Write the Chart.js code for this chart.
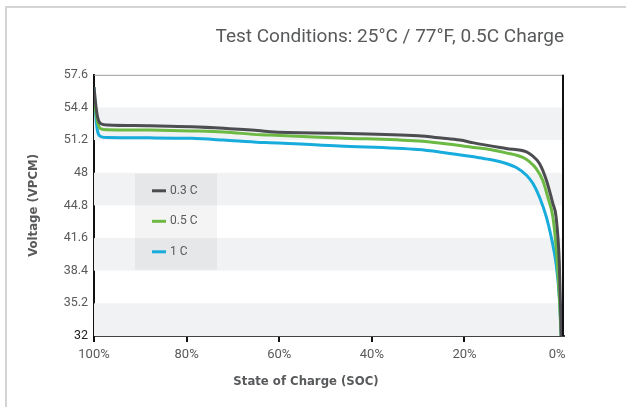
<!DOCTYPE html>
<html lang="en">
<head>
<meta charset="UTF-8">
<title>Discharge Curves</title>
<script src="https://cdn.jsdelivr.net/npm/chart.js"></script>
<style>
  body { margin: 0; background: #fff; }
  #wrap { position: relative; width: 626px; height: 407px; overflow: hidden; }
  #card { position: absolute; left: 5px; top: 6px; width: 640px; height: 420px; border-top: 2px solid #d4d4d4; border-left: 2px solid #d4d4d4; }
  canvas { position: absolute; left: 0; top: 0; }
</style>
</head>
<body>
<div id="wrap">
  <div id="card"></div>
  <canvas id="chart" width="626" height="407"></canvas>
</div>
<script>
// state of charge (%) and voltage, one pair per rate
var soc03  = [100, 99.6, 99.2, 98.5, 97, 88, 79, 72, 64, 62, 47, 30, 25, 21, 18, 11, 6.6, 5.5, 3.8, 2.3, 0.9, 0.2, -0.5, -0.9];
var volt03 = [56.4, 54.6, 53.4, 52.8, 52.68, 52.6, 52.5, 52.35, 52.12, 52.02, 51.87, 51.62, 51.4, 51.2, 50.93, 50.38, 50.05, 49.72, 48.9, 47.26, 44.97, 43.65, 39.06, 32.0];

var soc05  = [100, 99.6, 99.2, 98.5, 97, 88, 79, 72, 64, 62, 47, 30, 25, 18, 14.5, 11, 7.4, 5.9, 4.5, 3.1, 2.0, 0.9, 0.2, -0.5, -0.9];
var volt05 = [55.8, 54.0, 52.9, 52.3, 52.22, 52.18, 52.1, 52.0, 51.72, 51.69, 51.41, 51.1, 50.88, 50.48, 50.28, 49.95, 49.5, 49.06, 48.41, 47.26, 45.62, 43.65, 40.7, 35.77, 32.0];

var soc1   = [100, 99.6, 99.2, 98.5, 97, 88, 79, 72, 64, 62, 47, 30, 25, 18, 14.5, 11, 8.8, 6.6, 5.2, 3.8, 2.3, 1.25, 0.2, -0.5, -0.9];
var volt1  = [56.4, 53.5, 52.0, 51.55, 51.45, 51.42, 51.37, 51.2, 50.97, 50.95, 50.63, 50.28, 50.02, 49.56, 49.3, 48.91, 48.51, 47.75, 46.94, 45.62, 43.65, 41.68, 39.06, 35.77, 32.0];

var seriesNames = ['0.3 C', '0.5 C', '1 C'];
var xTicks = [100, 80, 60, 40, 20, 0];
var yTicks = [32, 35.2, 38.4, 41.6, 44.8, 48, 51.2, 54.4, 57.6];
var yTickLabels = ['32', '35.2', '38.4', '41.6', '44.8', '48', '51.2', '54.4', '57.6'];
var bands = [[32, 35.2], [38.4, 41.6], [44.8, 48], [51.2, 54.4]];

function pairs(xs, ys) {
    return xs.map(function (x, i) { return { x: x, y: ys[i] }; });
}

var grey = '#58595b';
var narrow = '"Liberation Sans Narrow", "DejaVu Sans Condensed", Roboto';

// grey stripes behind the curves
var bandPlugin = {
    id: 'bands',
    beforeDatasetsDraw: function (chart) {
        var ctx = chart.ctx, a = chart.chartArea, y = chart.scales.y;
        ctx.save();
        ctx.fillStyle = '#f1f2f4';
        bands.forEach(function (b) {
            var top = y.getPixelForValue(b[1]);
            var bot = y.getPixelForValue(b[0]);
            ctx.fillRect(a.left, top, a.right - a.left, bot - top);
        });
        ctx.restore();
    }
};

// top and right edges of the plot box, legend, x axis title
var extrasPlugin = {
    id: 'extras',
    afterDraw: function (chart) {
        var ctx = chart.ctx, a = chart.chartArea;
        ctx.save();
        ctx.strokeStyle = '#9a9a9a';
        ctx.lineWidth = 1;
        ctx.beginPath();
        ctx.moveTo(a.left, a.top + 0.5);
        ctx.lineTo(a.right, a.top + 0.5);
        ctx.stroke();
        ctx.strokeStyle = '#111';
        ctx.lineWidth = 2;
        ctx.beginPath();
        ctx.moveTo(a.right - 1, a.top);
        ctx.lineTo(a.right - 1, a.bottom);
        ctx.stroke();

        // legend box
        var lx = a.left + 41, ly = a.top + 99;
        ctx.fillStyle = 'rgba(0,0,0,0.045)';
        ctx.fillRect(lx, ly, 82, 96);
        ctx.font = '12px Roboto';
        ctx.textBaseline = 'middle';
        chart.data.datasets.forEach(function (ds, i) {
            var cy = ly + 17 + i * 30.5;
            ctx.strokeStyle = ds.borderColor;
            ctx.lineWidth = 3;
            ctx.beginPath();
            ctx.moveTo(lx + 17, cy);
            ctx.lineTo(lx + 31, cy);
            ctx.stroke();
            ctx.fillStyle = grey;
            ctx.fillText(ds.label, lx + 35, cy);
        });

        ctx.font = 'bold 13px ' + narrow;
        ctx.fillStyle = grey;
        ctx.textAlign = 'center';
        ctx.fillText('State of Charge (SOC)', a.left + 212, a.bottom + 46);
        ctx.restore();
    }
};

new Chart(document.getElementById('chart'), {
    type: 'line',
    data: {
        datasets: [
            { label: seriesNames[0], data: pairs(soc03, volt03), borderColor: '#4b4d50' },
            { label: seriesNames[1], data: pairs(soc05, volt05), borderColor: '#6cb944' },
            { label: seriesNames[2], data: pairs(soc1, volt1), borderColor: '#17acdc' }
        ]
    },
    options: {
        responsive: false,
        animation: false,
        layout: { padding: { left: 0, right: 62, top: 0, bottom: 0 } },
        elements: {
            line: { borderWidth: 3, cubicInterpolationMode: 'monotone', fill: false },
            point: { radius: 0 }
        },
        plugins: {
            legend: { display: false },
            tooltip: { enabled: false },
            title: {
                display: true,
                text: 'Test Conditions: 25°C / 77°F, 0.5C Charge',
                align: 'end',
                color: grey,
                font: { family: 'Roboto', size: 19, weight: 'normal' },
                padding: { top: 26, bottom: 26 }
            }
        },
        scales: {
            x: {
                type: 'linear',
                reverse: true,
                min: -1.5,
                max: 100,
                afterBuildTicks: function (scale) {
                    scale.ticks = xTicks.map(function (v) { return { value: v }; });
                },
                afterFit: function (scale) { scale.height = 71; },
                ticks: {
                    color: grey,
                    font: { family: 'Roboto', size: 13 },
                    padding: 5,
                    maxRotation: 0,
                    callback: function (v) { return v + '%'; }
                },
                grid: {
                    drawOnChartArea: false,
                    tickLength: 6,
                    lineWidth: 2,
                    color: function (c) { return c.tick && c.tick.value === 0 ? 'rgba(0,0,0,0)' : '#111'; }
                },
                border: { display: true, color: '#444', width: 2 }
            },
            y: {
                min: 32,
                max: 57.6,
                afterBuildTicks: function (scale) {
                    scale.ticks = yTicks.map(function (v) { return { value: v }; });
                },
                afterFit: function (scale) { scale.width = 94; },
                ticks: {
                    color: function (c) { return c.index === 0 ? '#222' : grey; },
                    font: { family: 'Roboto', size: 12.5 },
                    padding: 6,
                    labelOffset: 0,
                    callback: function (v, i) { return yTickLabels[i]; }
                },
                grid: { display: false, drawTicks: false },
                border: { display: true, color: '#111', width: 2 },
                title: {
                    display: true,
                    text: 'Voltage (VPCM)',
                    color: grey,
                    font: { family: narrow, size: 13, weight: 'bold' },
                    padding: { top: 26, bottom: 0 }
                }
            }
        }
    },
    plugins: [bandPlugin, extrasPlugin]
});
</script>
</body>
</html>
